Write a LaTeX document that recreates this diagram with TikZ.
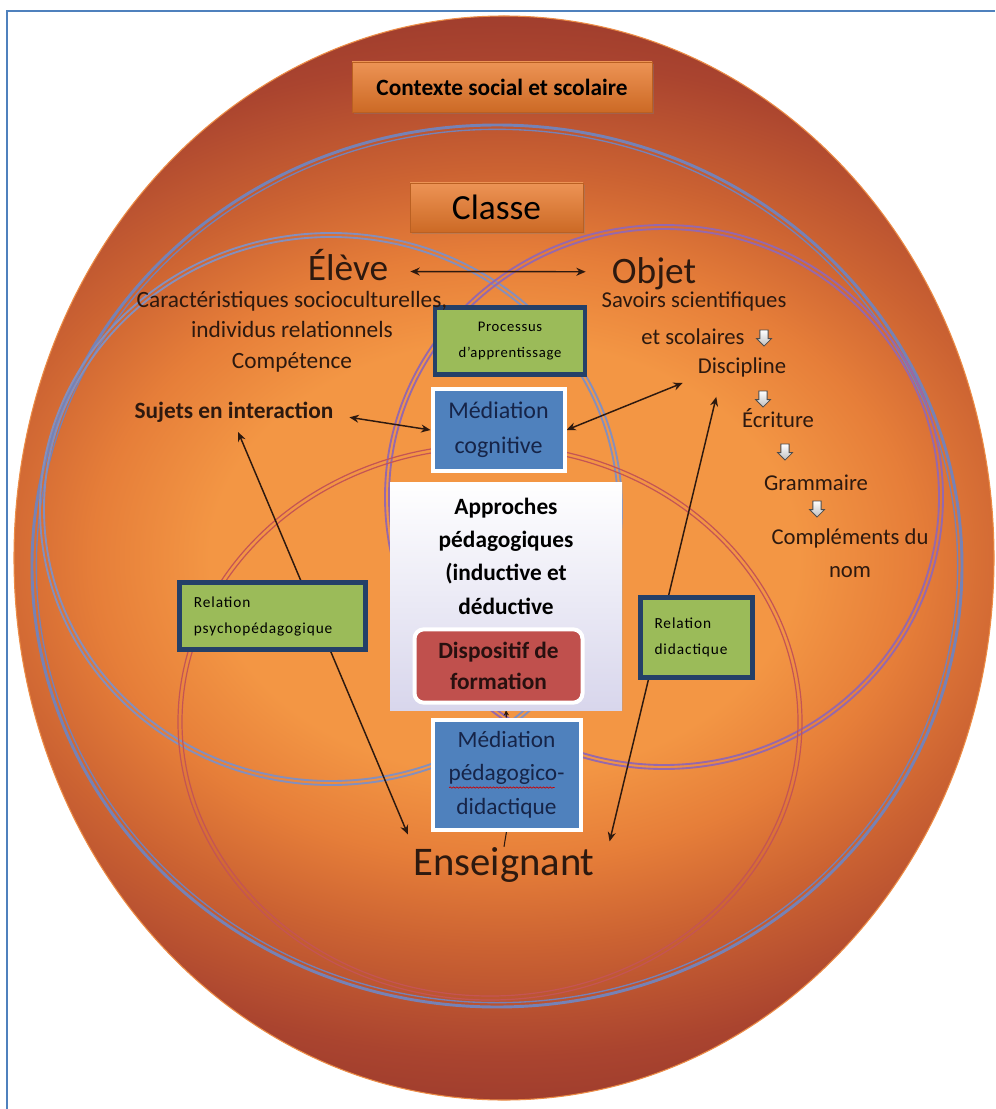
\documentclass[tikz,border=0pt]{standalone}
\usepackage{fontspec}
\setmainfont{Carlito}
\usepackage{tikz}
\usetikzlibrary{arrows.meta,shapes.arrows,shadows,decorations.pathmorphing}

\definecolor{centreorange}{RGB}{243,150,68}
\definecolor{midorange}{RGB}{230,126,57}
\definecolor{rimbrown}{RGB}{203,98,50}
\definecolor{deepbrown}{RGB}{170,68,47}
\definecolor{edgered}{RGB}{152,56,44}
\definecolor{rimorange}{RGB}{236,140,70}
\definecolor{ringblue}{RGB}{118,130,182}
\definecolor{ringpurple}{RGB}{150,104,172}
\definecolor{ringred}{RGB}{196,84,84}
\definecolor{boxorange}{RGB}{232,120,42}
\definecolor{leafgreen}{RGB}{155,187,89}
\definecolor{navyedge}{RGB}{36,64,104}
\definecolor{medblue}{RGB}{79,129,189}
\definecolor{dispred}{RGB}{192,80,77}
\definecolor{inktext}{RGB}{45,25,15}
\definecolor{navytext}{RGB}{22,36,72}
\definecolor{frameblue}{RGB}{79,129,189}
\definecolor{lavender}{RGB}{216,214,236}

\pgfdeclareradialshading{eggshade}{\pgfpoint{0bp}{0bp}}{color(0bp)=(centreorange); color(10bp)=(centreorange); color(14bp)=(midorange); color(18bp)=(rimbrown); color(23bp)=(deepbrown); color(27bp)=(edgered); color(50bp)=(edgered)}

\pgfdeclarelayer{back}
\pgfdeclarelayer{links}
\pgfsetlayers{back,links,main}

\tikzset{
	frameline/.style={draw=frameblue, line width=1.2pt},
	ctxbox/.style={rectangle, top color=boxorange!80!white, bottom color=boxorange!88!black, draw=boxorange!80!black, line width=0.4pt, text=black,
		drop shadow={opacity=0.35, shadow xshift=1.5pt, shadow yshift=-1.5pt}},
	greenbox/.style={rectangle, fill=leafgreen, draw=navyedge, line width=3.5pt, text=black,
		font=\fontsize{11.5}{19.5}\selectfont\addfontfeature{LetterSpace=6}},
	medbox/.style={rectangle, fill=medblue, draw=white, line width=3pt, text=navytext, align=center,
		drop shadow={opacity=0.3, shadow xshift=1.5pt, shadow yshift=-1.5pt}},
	blockarrow/.style={single arrow, shape border rotate=270, top color=white, bottom color=black!25, draw=black!70, line width=0.6pt,
		minimum height=12pt, minimum width=11pt, single arrow head extend=2.5pt, inner sep=2.8pt}
}

\begin{document}
\begin{tikzpicture}[x=0.75pt, y=-0.75pt, >={Stealth[length=7pt,width=6pt]}]
	\useasboundingbox (0,0) rectangle (995,1109);

	\begin{pgfonlayer}{back}
		\begin{scope}
			\clip (504,558) ellipse [x radius=367.5pt, y radius=406.5pt];
			\shade[shading=eggshade] (504,558) ellipse [x radius=551pt, y radius=406.5pt];
		\end{scope}
		\draw[rimorange, line width=0.8pt] (504,558) ellipse [x radius=367.5pt, y radius=406.5pt];
		% classe
		\draw[ringblue, line width=2.2pt] (497,566) ellipse [x radius=348.75pt, y radius=330.75pt];
		\draw[ringblue, line width=1pt] (497,566) ellipse [x radius=345.5pt, y radius=327.5pt];
		% eleve
		\draw[ringblue!90!white, line width=1.4pt] (331,509) ellipse [x radius=218.25pt, y radius=207pt];
		\draw[ringblue!90!white, line width=1.4pt] (331,509) ellipse [x radius=215.25pt, y radius=204pt];
		% objet
		\draw[ringpurple, line width=1.4pt] (664,497) ellipse [x radius=209.25pt, y radius=204pt];
		\draw[ringpurple, line width=1.4pt] (664,497) ellipse [x radius=206.25pt, y radius=201pt];
		% enseignant
		\draw[ringred, line width=0.9pt] (490,722) ellipse [x radius=234pt, y radius=208.5pt];
		\draw[ringred, line width=0.9pt] (490,722) ellipse [x radius=231pt, y radius=205.5pt];
	\end{pgfonlayer}

	\draw[frameline] (7,1109) -- (7,11) -- (995,11);

	\begin{scope}[every node/.style={ctxbox}]
		\node (contexte) at (502,87) [minimum width=225pt, minimum height=37.5pt, font=\bfseries\fontsize{17.5}{20}\selectfont] {Contexte social et scolaire};
		\node (classe) at (496.5,207.5) [minimum width=129.75pt, minimum height=36.75pt, font=\fontsize{26.5}{30}\selectfont] {Classe};
	\end{scope}

	% boites centrales
	\node[greenbox, align=center, minimum width=112.5pt, minimum height=50pt, font=\fontsize{11}{19.5}\selectfont\addfontfeature{LetterSpace=5}] (processus) at (510,341) {Processus\\d’apprentissage};
	\node[medbox, minimum width=99pt, minimum height=61pt, font=\fontsize{18}{26}\selectfont] (medcog) at (498.5,430) {Médiation\\cognitive};
	\node[rectangle, top color=white, bottom color=lavender, minimum width=174pt, minimum height=171pt,
		drop shadow={opacity=0.25, shadow xshift=1pt, shadow yshift=-1pt}] (approches) at (506,596) {};
	\node[inner sep=0pt, align=center, text=black, font=\bfseries\fontsize{17.5}{25}\selectfont] (approchestxt) at (506,556) {Approches\\pédagogiques\\(inductive et\\déductive};
	\node[rectangle, rounded corners=7pt, fill=dispred, draw=white, line width=3pt, text=black!80!dispred, align=center,
		minimum width=126pt, minimum height=55pt, font=\bfseries\fontsize{17.5}{23}\selectfont] (dispositif) at (498.5,666) {Dispositif de\\formation};
	\node[medbox, minimum width=111pt, minimum height=82.5pt, font=\fontsize{17.5}{25}\selectfont] (medped) at (506.5,774.5) {Médiation\\pédagogico-\\didactique};
	\node[greenbox, text width=118pt, align=left, inner xsep=10.75pt, inner ysep=0pt, minimum height=50pt] (psycho) at (272.5,616) {Relation\\psychopédagogique};
	\node[greenbox, text width=63pt, align=left, inner xsep=10.5pt, inner ysep=0pt, minimum height=60pt] (didac) at (696.5,637.5) {Relation\\didactique};

	% textes
	\begin{scope}[every node/.style={inner sep=0pt, text=inktext, anchor=base}]
		\node[font=\fontsize{28}{30}\selectfont] (eleve) at (348,280) {Élève};
		\node[font=\fontsize{28}{30}\selectfont] (objet) at (654,283) {Objet};
		\node[font=\fontsize{30.5}{32}\selectfont] (enseignant) at (504,875) {Enseignant};
		\node[font=\bfseries\fontsize{17.5}{20}\selectfont] (sujets) at (234,418) {Sujets en interaction};
		\node[font=\fontsize{17.5}{20}\selectfont] (carac1) at (292,307) {Caractéristiques socioculturelles,};
		\node[font=\fontsize{17.5}{20}\selectfont] (carac2) at (292,337) {individus relationnels};
		\node[font=\fontsize{17.5}{20}\selectfont] (carac3) at (292,368) {Compétence};
		\node[font=\fontsize{17}{20}\selectfont] (savoirs) at (694,307) {Savoirs scientifiques};
		\node[font=\fontsize{17}{20}\selectfont] (scolaires) at (693,344) {et scolaires};
		\node[font=\fontsize{17}{20}\selectfont] (discipline) at (742,373) {Discipline};
		\node[font=\fontsize{17}{20}\selectfont] (ecriture) at (778,427) {Écriture};
		\node[font=\fontsize{17}{20}\selectfont] (grammaire) at (816,490) {Grammaire};
		\node[font=\fontsize{17}{20}\selectfont] (complements) at (850,544) {Compléments du};
		\node[font=\fontsize{17}{20}\selectfont] (nom) at (850,577) {nom};
	\end{scope}

	\begin{scope}[every node/.style={blockarrow}]
		\node (fl1) at (764,336) {};
		\node (fl2) at (763,397) {};
		\node (fl3) at (785,450) {};
		\node (fl4) at (817,507) {};
	\end{scope}

	% soulignement
	\draw[red!80!black, line width=0.5pt, decorate, decoration={snake, amplitude=0.5pt, segment length=2.5pt}]
		([xshift=-43pt,yshift=-9.8pt]medped.center) -- ([xshift=36pt,yshift=-9.8pt]medped.center);

	\begin{pgfonlayer}{links}
		\begin{scope}[every edge/.style={draw=inktext, line width=1.1pt}]
			\path [<->] ([yshift=4pt]eleve.mid east) edge [shorten <=16.5pt, shorten >=19.5pt] ([yshift=6pt]objet.mid west);
			\path [<->] (sujets.mid east) edge [shorten <=12pt] (medcog.west);
			\path [<->] (medcog.east) edge [shorten >=12pt] (discipline.south west);
			\path [<->] (sujets.south) edge [shorten <=8pt, shorten >=10pt] (enseignant.north west);
			\path [<->] ([xshift=14pt,yshift=-15pt]discipline.south west) edge ([xshift=11pt,yshift=4pt]enseignant.north east);
			\path [->, >={Stealth[length=4pt,width=4pt]}] (medped.north) edge (approches.south);
			\path (medped.south) edge [line width=0.8pt] (enseignant.north);
		\end{scope}
	\end{pgfonlayer}
\end{tikzpicture}
\end{document}
